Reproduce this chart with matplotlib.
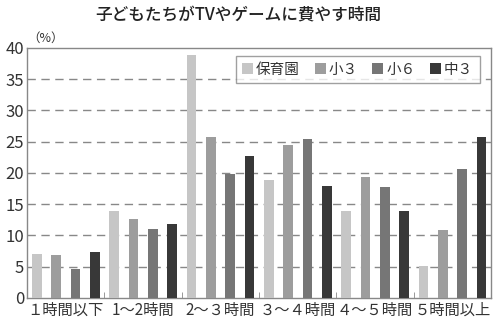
import numpy as np
import matplotlib
matplotlib.use("Agg")
import matplotlib.pyplot as plt

plt.rcParams['font.family'] = ['Noto Sans CJK JP', 'DejaVu Sans']

categories = ["１時間以下", "1～2時間", "2～３時間", "３～４時間", "４～５時間", "５時間以上"]
series_names = ["保育園", "小３", "小６", "中３"]
hoikuen = [7.0, 13.9, 38.9, 18.9, 13.9, 5.1]
sho3 = [6.9, 12.7, 25.8, 24.4, 19.3, 10.8]
sho6 = [4.6, 11.0, 19.9, 25.4, 17.7, 20.7]
chu3 = [7.4, 11.9, 22.7, 17.9, 13.9, 25.7]
colors = ["#c6c6c6", "#9d9d9d", "#767676", "#383838"]

fig = plt.figure(figsize=(5.0, 3.26), dpi=100)
ax = fig.add_axes([0.054, 0.086, 0.928, 0.767])

x = np.arange(len(categories)) + 0.5
slot = 0.25
for i, (vals, name) in enumerate(zip([hoikuen, sho3, sho6, chu3], series_names)):
    ax.bar(x + (i - 1.5) * slot, vals, width=0.125, color=colors[i], label=name, zorder=3)

ax.set_xlim(0, 6)
ax.set_ylim(0, 40)
ax.set_yticks(range(0, 41, 5))
ax.set_xticks(x)
ax.set_xticklabels(categories, fontsize=11, color="#333333")
ax.set_xticks(np.arange(1, 6), minor=True)
ax.tick_params(axis='x', which='major', length=0, pad=3)
ax.tick_params(axis='x', which='minor', length=4, direction='in', color="#888888")
ax.tick_params(axis='y', length=0, labelsize=12, labelcolor="#333333", pad=2)

for yv in range(5, 40, 5):
    ax.axhline(yv, color="#888888", linestyle=(0, (6, 4)), linewidth=1, zorder=1)

for s in ax.spines.values():
    s.set_color("#888888")
    s.set_linewidth(1)

ax.text(0.0, 40.5, "（%）", fontsize=9, color="#333333", ha='left', va='bottom')

leg = ax.legend(loc='upper right', ncol=4, fontsize=10.5, frameon=True, fancybox=False,
                edgecolor="#888888", handlelength=0.75, handleheight=0.75,
                handletextpad=0.2, columnspacing=1.0, borderpad=0.45,
                borderaxespad=0.3, bbox_to_anchor=(0.985, 0.985))
leg.get_frame().set_linewidth(1)
for t in leg.get_texts():
    t.set_color("#333333")

fig.text(0.476, 0.955, "子どもたちがTVやゲームに費やす時間", fontsize=12, ha='center', va='center',
         color="#222222", fontweight='medium')

fig.savefig("out.png", dpi=100)
